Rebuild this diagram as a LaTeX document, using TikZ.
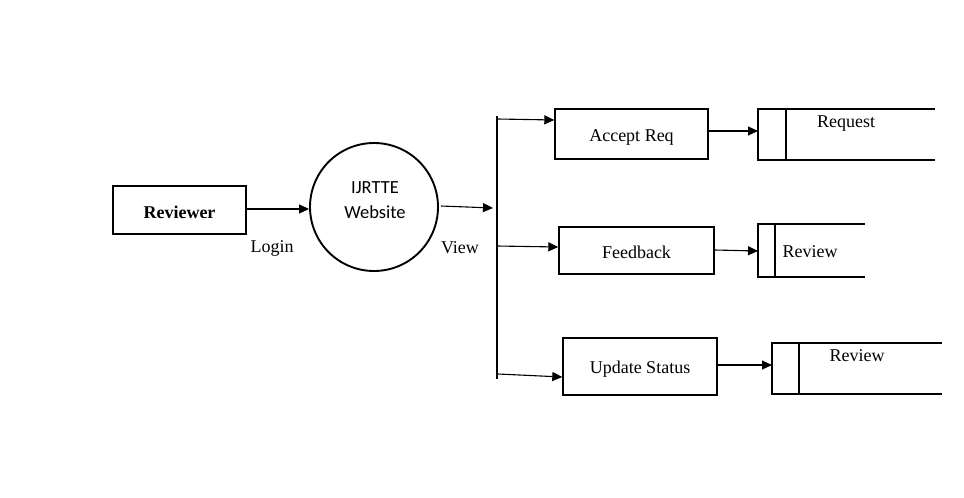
\documentclass[tikz,border=0pt]{standalone}
\usepackage{fontspec}
\setmainfont{Liberation Serif}
\newfontfamily\calib{Carlito}
\usetikzlibrary{arrows.meta}
\begin{document}
\begin{tikzpicture}[x=1pt,y=-1pt,
  line width=1.4pt,
  every node/.style={font=\fontsize{18}{21}\selectfont},
  flow/.style={line width=1.1pt,-{Triangle[length=10pt,width=9pt]}},
  procbox/.style={draw,rectangle,inner sep=0pt}]
\useasboundingbox (0,0) rectangle (964,498);
% Reviewer
\node[procbox,minimum width=133pt,minimum height=48pt,font=\fontsize{18}{21}\selectfont\bfseries] (rev) at (179.5,210) {};
\node[font=\fontsize{18}{21}\selectfont\bfseries] (revt) at (179.5,212) {Reviewer};
% Circle
\node[draw,circle,line width=1.9pt,minimum size=128pt,inner sep=0pt] (web) at (374,207) {};
\node[align=center,font=\calib\fontsize{18.5}{25}\selectfont] (webt) at (375,200) {IJRTTE\\Website};
% Login
\draw[flow] (rev.east |- 0,209) -- (web.west |- 0,209);
\node (login) at (272,248) {Login};
% vertical bus
\coordinate (bt) at (497,116);
\coordinate (bb) at (497,379);
\draw[line width=1.1pt] (bt) -- (bb);
\coordinate (vin) at (493,208);
\draw[flow] (441,206) -- (vin);
\node (view) at (460,247.5) {View};
% Process boxes
\node[procbox,minimum width=153pt,minimum height=50pt] (acc) at (631.5,134) {};
\node (acct) at (631.5,137) {Accept Req};
\node[procbox,minimum width=155pt,minimum height=47pt] (fb) at (636.5,250.5) {};
\node (fbt) at (636.5,252) {Feedback};
\node[procbox,minimum width=154pt,minimum height=57pt] (upd) at (640,366.5) {};
\node (updt) at (640,369) {Update Status};
% bus to boxes
\coordinate (b1) at (498,119);
\coordinate (b2) at (497,246);
\coordinate (b3) at (498,374);
\draw[flow] (b1) -- (acc.west |- 0,120);
\draw[flow] (b2) -- (fb.west |- 0,247);
\draw[flow] (b3) -- (upd.west |- 0,377);
% Data stores
\coordinate (s1a) at (935,109); \coordinate (s1b) at (758,109);
\coordinate (s1c) at (758,160); \coordinate (s1d) at (935,160);
\draw (s1a) -- (s1b) -- (s1c) -- (s1d);
\draw[line width=1.1pt] (786,109) -- (786,160);
\node (req) at (846,123.5) {Request};
\coordinate (s2a) at (865,224); \coordinate (s2b) at (758,224);
\coordinate (s2c) at (758,277); \coordinate (s2d) at (865,277);
\draw (s2a) -- (s2b) -- (s2c) -- (s2d);
\draw[line width=1.1pt] (775,224) -- (775,277);
\node (rev2) at (810,252) {Review};
\coordinate (s3a) at (942,343); \coordinate (s3b) at (772,343);
\coordinate (s3c) at (772,394); \coordinate (s3d) at (942,394);
\draw (s3a) -- (s3b) -- (s3c) -- (s3d);
\draw[line width=1.1pt] (799,343) -- (799,394);
\node (rev3) at (857,355.5) {Review};
% box to store
\draw[flow] (acc.east |- 0,131) -- (s1b |- 0,131);
\draw[flow] (fb.east |- 0,250) -- (s2b |- 0,251);
\draw[flow] (upd.east |- 0,365) -- (s3b |- 0,365);
\end{tikzpicture}
\end{document}
